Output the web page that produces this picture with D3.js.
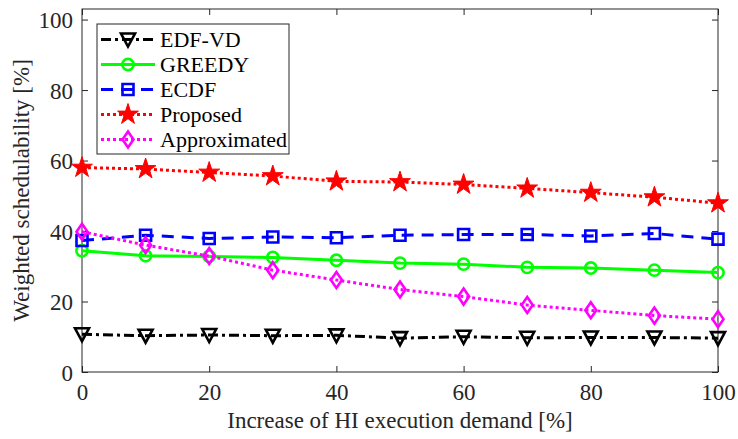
<!DOCTYPE html>
<html>
<head>
<meta charset="utf-8">
<script src="https://cdn.jsdelivr.net/npm/d3@7"></script>
<style>
  html, body { margin: 0; padding: 0; background: #fff; }
  svg { display: block; font-family: "Liberation Serif", "Times New Roman", serif; }
</style>
</head>
<body>
<svg id="chart" width="738" height="439"></svg>
<script>
// Increase of HI execution demand [%]
const demand = [0, 10, 20, 30, 40, 50, 60, 70, 80, 90, 100];

// Weighted schedulability [%] per scheduling approach
const edfvd       = [10.7, 10.3, 10.5, 10.3, 10.4, 9.6, 10.0, 9.7, 9.8, 9.8, 9.6];
const greedy      = [34.4, 33.0, 32.8, 32.5, 31.7, 30.9, 30.6, 29.7, 29.5, 28.9, 28.2];
const ecdf        = [37.3, 38.8, 37.9, 38.3, 38.1, 38.8, 39.0, 39.0, 38.6, 39.3, 37.7];
const proposed    = [58.0, 57.6, 56.6, 55.6, 54.1, 53.9, 53.2, 52.1, 50.9, 49.6, 47.9];
const approximated = [39.8, 36.0, 32.9, 28.9, 26.1, 23.4, 21.4, 19.0, 17.5, 16.0, 15.0];

const seriesNames = ["EDF-VD", "GREEDY", "ECDF", "Proposed", "Approximated"];
const xTicks = [0, 20, 40, 60, 80, 100];
const yTicks = [0, 20, 40, 60, 80, 100];

const series = [
  { name: seriesNames[0], values: edfvd,        color: "#000000", dash: "10,4,3,4", marker: "triDown" },
  { name: seriesNames[1], values: greedy,       color: "#00ff00", dash: null,        marker: "circle" },
  { name: seriesNames[2], values: ecdf,         color: "#0000ff", dash: "12,8",      marker: "square" },
  { name: seriesNames[3], values: proposed,     color: "#ff0000", dash: "3,3",       marker: "star" },
  { name: seriesNames[4], values: approximated, color: "#ff00ff", dash: "3,3",       marker: "diamond" }
];

const FONT = "23px";
const LEGEND_FONT = "22px";

const svg = d3.select("#chart");
const m = { left: 82, right: 738 - 718, top: 9, bottom: 439 - 372 };
const W = 738 - m.left - m.right;
const H = 439 - m.top - m.bottom;

const x = d3.scaleLinear().domain([0, 100]).range([0, W]);
const y = d3.scaleLinear().domain([0, 103]).range([H, 0]);

const g = svg.append("g").attr("transform", `translate(${m.left},${m.top})`);

// Axes with inward ticks, mirrored on the top and right
const tickStyle = sel => {
  sel.select(".domain").remove();
  sel.selectAll("line").attr("stroke", "#262626").attr("stroke-width", 1);
  sel.selectAll("text").attr("fill", "#262626").style("font-size", FONT)
     .style("font-family", "Liberation Serif, serif");
};

g.append("g").attr("transform", `translate(0,${H})`)
  .call(d3.axisBottom(x).tickValues(xTicks).tickSize(-6).tickPadding(12).tickFormat(d3.format("d")))
  .call(tickStyle);
g.append("g")
  .call(d3.axisLeft(y).tickValues(yTicks).tickSize(-6).tickPadding(9).tickFormat(d3.format("d")))
  .call(tickStyle)
  .call(s => s.selectAll("text").attr("dy", "0.35em"));
g.append("g")
  .call(d3.axisTop(x).tickValues(xTicks).tickSize(-6).tickFormat(""))
  .call(tickStyle);
g.append("g").attr("transform", `translate(${W},0)`)
  .call(d3.axisRight(y).tickValues(yTicks).tickSize(-6).tickFormat(""))
  .call(tickStyle);

// Plot frame
g.append("rect").attr("x", 0).attr("y", 0).attr("width", W).attr("height", H)
  .attr("fill", "none").attr("stroke", "#262626").attr("stroke-width", 1);

// Marker shapes
function markerPath(type) {
  switch (type) {
    case "triDown": return "M-7,-6L7,-6L0,7Z";
    case "circle":  return d3.symbol(d3.symbolCircle, 100)();
    case "square":  return "M-5.5,-5.5H5.5V5.5H-5.5Z";
    case "star":    return d3.symbol(d3.symbolStar, 135)();
    case "diamond": return "M0,-8L5.5,0L0,8L-5.5,0Z";
  }
}

function drawMarker(sel, s) {
  const filled = s.marker === "star";
  sel.append("path")
    .attr("d", markerPath(s.marker))
    .attr("fill", filled ? s.color : "none")
    .attr("stroke", s.color)
    .attr("stroke-width", filled ? 1 : 2.6)
    .attr("stroke-linejoin", "miter");
}

const line = d3.line().x((d, i) => x(demand[i])).y(d => y(d));

series.forEach(s => {
  g.append("path")
    .datum(s.values)
    .attr("d", line)
    .attr("fill", "none")
    .attr("stroke", s.color)
    .attr("stroke-width", 3)
    .attr("stroke-dasharray", s.dash);
  s.values.forEach((v, i) => {
    const mk = g.append("g").attr("transform", `translate(${x(demand[i])},${y(v)})`);
    drawMarker(mk, s);
  });
});

// Legend
const lg = svg.append("g").attr("transform", "translate(97,24)");
lg.append("rect").attr("width", 192).attr("height", 130)
  .attr("fill", "#fff").attr("stroke", "#262626").attr("stroke-width", 1);
series.forEach((s, i) => {
  const yy = 15.5 + i * 25;
  lg.append("line").attr("x1", 4).attr("x2", 58).attr("y1", yy).attr("y2", yy)
    .attr("stroke", s.color).attr("stroke-width", 3).attr("stroke-dasharray", s.dash);
  const mk = lg.append("g").attr("transform", `translate(31,${yy})`);
  drawMarker(mk, s);
  lg.append("text").attr("x", 63).attr("y", yy).attr("dy", "0.35em")
    .attr("fill", "#000").style("font-size", LEGEND_FONT).text(s.name);
});

// Axis titles
svg.append("text")
  .attr("x", m.left + W / 2).attr("y", 428)
  .attr("text-anchor", "middle").attr("fill", "#262626")
  .style("font-size", FONT)
  .text("Increase of HI execution demand [%]");
svg.append("text")
  .attr("transform", `translate(29,${m.top + H / 2}) rotate(-90)`)
  .attr("text-anchor", "middle").attr("fill", "#262626")
  .style("font-size", FONT)
  .text("Weighted schedulability [%]");
</script>
</body>
</html>
